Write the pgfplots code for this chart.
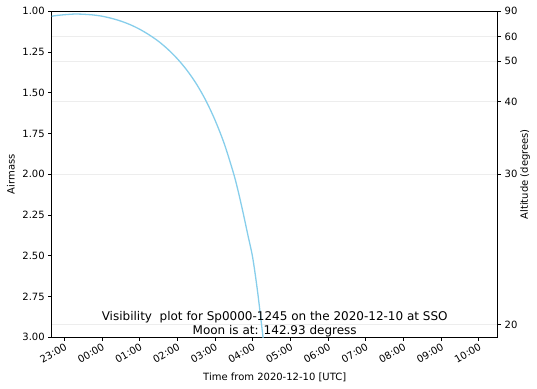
\documentclass[border=0pt]{standalone}
\usepackage{pgfplots}
\pgfplotsset{compat=1.18}
\usepackage{fontspec}
\setmainfont{DejaVu Sans}
\definecolor{skyblue}{HTML}{87CEEB}
\definecolor{gridc}{HTML}{EDEDED}
\pgfplotsset{
  /pgf/number format/assume math mode=true,
  every axis/.append style={
    scale only axis, width=446pt, height=326pt,
    at={(0,0)}, anchor=south west,
    xmin=-1.334, xmax=10.504, ymin=1, ymax=3, y dir=reverse,
    tick align=outside, major tick length=3.5pt,
    tick style={black, line width=0.8pt},
    axis line style={line width=0.8pt},
    tick label style={font=\fontsize{10}{12}\selectfont},
    label style={font=\fontsize{10}{12}\selectfont},
  }
}
\begin{document}
\begin{tikzpicture}
\useasboundingbox (-51.7pt,-50.7pt) rectangle (485.3pt,337.3pt);
% right axis (altitude) with grid
\begin{axis}[
  axis x line=none, axis y line*=right,
  ytick={1,1.1547,1.3054,1.5557,2,2.9238},
  yticklabels={90,60,50,40,30,20},
  ymajorgrids, major grid style={gridc, line width=0.8pt},
  ylabel={Altitude (degrees)},
  ylabel style={at={(axis description cs:1.0612,0.5)}, anchor=center, rotate=0},
]
\addplot[draw=none] coordinates {(0,2)};
\end{axis}
% main axis (airmass)
\begin{axis}[
  xtick={-1,0,1,2,3,4,5,6,7,8,9,10},
  xticklabels={23:00,00:00,01:00,02:00,03:00,04:00,05:00,06:00,07:00,08:00,09:00,10:00},
  xtick pos=bottom, ytick pos=left,
  xticklabel style={rotate=30, anchor=north east, inner sep=1pt},
  ytick={1,1.25,1.5,1.75,2,2.25,2.5,2.75,3},
  yticklabel={\pgfmathprintnumber[fixed,fixed zerofill,precision=2]{\tick}},
  xlabel={Time from 2020-12-10 [UTC]},
  xlabel style={at={(axis description cs:0.5,-0.1227)}, anchor=center},
  ylabel={Airmass},
  ylabel style={at={(axis description cs:-0.0913,0.5)}, anchor=center},
]
\addplot[skyblue, line width=1.3pt, smooth] coordinates {
(-1.334,1.031) (-1.25,1.027) (-1.0,1.021) (-0.75,1.017) (-0.63,1.017)
(-0.5,1.018) (-0.25,1.022) (0,1.030) (0.25,1.043) (0.5,1.060)
(0.75,1.082) (1.0,1.110) (1.25,1.144) (1.5,1.184) (1.75,1.233)
(2.0,1.291) (2.25,1.360) (2.5,1.443) (2.75,1.544) (3.0,1.667)
(3.25,1.815) (3.5,2.000) (3.625,2.113) (3.75,2.240) (3.875,2.375)
(4.0,2.510) (4.125,2.71) (4.25,2.95) (4.35,3.15)
};
\node[anchor=south, align=center, inner sep=0pt,
  font=\fontsize{12}{14.4}\selectfont] at (rel axis cs:0.5,0)
  {Visibility\ \ plot for Sp0000-1245 on the 2020-12-10 at SSO\\Moon is at: 142.93 degress};
\end{axis}
\end{tikzpicture}
\end{document}
